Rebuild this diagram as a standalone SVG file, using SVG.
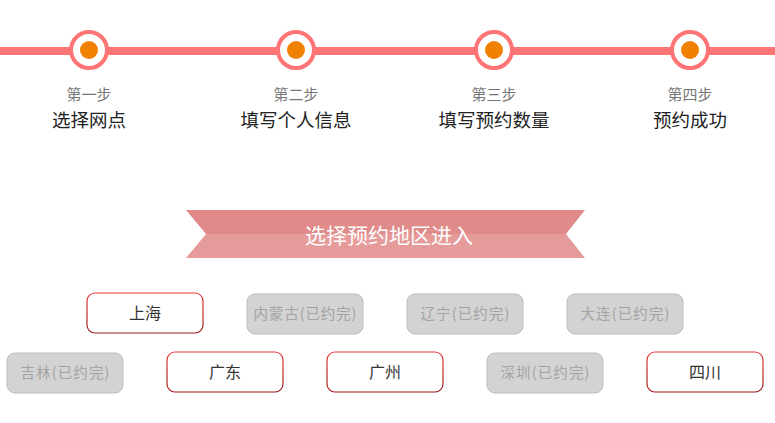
<svg xmlns="http://www.w3.org/2000/svg" width="775" height="423" viewBox="0 0 775 423">
<defs>
<style>
text{font-family:"Noto Sans CJK SC","Noto Sans",sans-serif;text-anchor:middle}
.ring{fill:#fff;stroke:#ff7474;stroke-width:4}
.dot{fill:#f08000}
.st{font-size:15px;fill:#777}
.sn{font-size:18.5px;fill:#222}
.on rect{fill:#fff;stroke:url(#rg);stroke-width:1.2}
.on text{font-size:16px;fill:#333}
.off rect{fill:#d3d3d3;stroke:#bdbdbd;stroke-width:1}
.off text{font-size:14.5px;fill:#a3a3a3}
</style>
<linearGradient id="rg" x1="0" y1="0" x2="0" y2="1">
<stop offset="0" stop-color="#e83a3a"/>
<stop offset="1" stop-color="#9a1a1a"/>
</linearGradient>
</defs>
<rect x="0" y="47" width="775" height="8" fill="#ff7474"/>
<g id="step1"><circle class="ring" cx="89" cy="50" r="18"/><circle class="dot" cx="89" cy="50" r="9"/><text class="st" x="89" y="100">第一步</text><text class="sn" x="89" y="127">选择网点</text></g>
<g id="step2"><circle class="ring" cx="296" cy="50" r="18"/><circle class="dot" cx="296" cy="50" r="9"/><text class="st" x="296" y="100">第二步</text><text class="sn" x="296" y="127">填写个人信息</text></g>
<g id="step3"><circle class="ring" cx="494" cy="50" r="18"/><circle class="dot" cx="494" cy="50" r="9"/><text class="st" x="494" y="100">第三步</text><text class="sn" x="494" y="127">填写预约数量</text></g>
<g id="step4"><circle class="ring" cx="690" cy="50" r="18"/><circle class="dot" cx="690" cy="50" r="9"/><text class="st" x="690" y="100">第四步</text><text class="sn" x="690" y="127">预约成功</text></g>
<g id="banner">
<polygon points="186,210 585,210 566,234 206,234" fill="#e08a8a"/>
<polygon points="206,234 566,234 585,258 186,258" fill="#e69b9b"/>
<text x="389" y="243" font-size="21" fill="#fff">选择预约地区进入</text>
</g>
<g id="connectors"></g>
<g id="shanghai" class="on"><rect x="87" y="293" width="116" height="40" rx="8"/><text x="145" y="318.5">上海</text></g>
<g id="neimenggu" class="off"><rect x="247" y="294" width="116" height="40" rx="8"/><text x="305" y="319" textLength="103" lengthAdjust="spacing">内蒙古(已约完)</text></g>
<g id="liaoning" class="off"><rect x="407" y="294" width="116" height="40" rx="8"/><text x="465" y="319" textLength="89" lengthAdjust="spacing">辽宁(已约完)</text></g>
<g id="dalian" class="off"><rect x="567" y="294" width="116" height="40" rx="8"/><text x="625" y="319" textLength="89" lengthAdjust="spacing">大连(已约完)</text></g>
<g id="jilin" class="off"><rect x="7" y="353" width="116" height="40" rx="8"/><text x="65" y="378" textLength="89" lengthAdjust="spacing">吉林(已约完)</text></g>
<g id="guangdong" class="on"><rect x="167" y="352" width="116" height="40" rx="8"/><text x="225" y="377.5">广东</text></g>
<g id="guangzhou" class="on"><rect x="327" y="352" width="116" height="40" rx="8"/><text x="385" y="377.5">广州</text></g>
<g id="shenzhen" class="off"><rect x="487" y="353" width="116" height="40" rx="8"/><text x="545" y="378" textLength="89" lengthAdjust="spacing">深圳(已约完)</text></g>
<g id="sichuan" class="on"><rect x="647" y="352" width="116" height="40" rx="8"/><text x="705" y="377.5">四川</text></g>
</svg>
